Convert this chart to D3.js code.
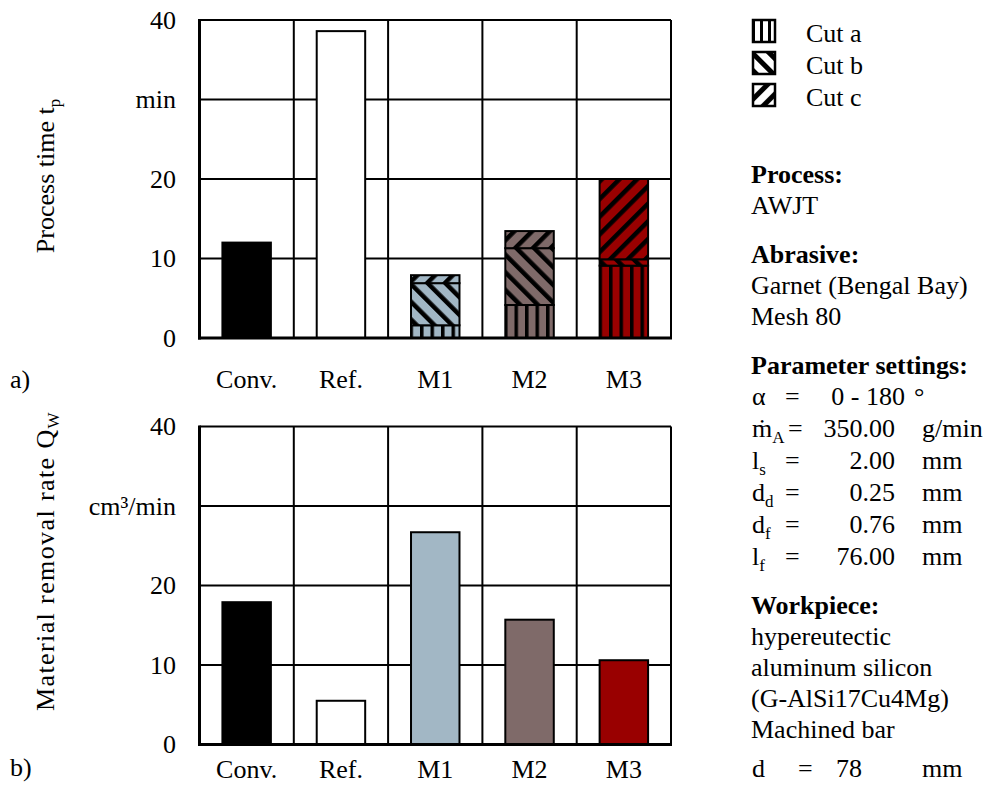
<!DOCTYPE html>
<html>
<head>
<meta charset="utf-8">
<script src="https://cdn.jsdelivr.net/npm/d3@7"></script>
<style>
  body { margin: 0; background: #fff; }
  svg { display: block; font-family: "Liberation Serif", "Times New Roman", serif; }
  text { fill: #000; }
</style>
</head>
<body>
<div id="chart"></div>
<script>
const categories = ["Conv.", "Ref.", "M1", "M2", "M3"];
const cutKeys = ["a", "b", "c"];
const cutNames = ["Cut a", "Cut b", "Cut c"];
// process time t_p (min): Conv. and Ref. are single bars, M1-M3 stacked by cut
const timeSingle = [12.0, 38.6, 0, 0, 0];
const timeCutA = [0, 0, 1.6, 4.15, 9.1];
const timeCutB = [0, 0, 5.3, 7.15, 0.8];
const timeCutC = [0, 0, 1.0, 2.15, 10.1];
// material removal rate Q_W (cm³/min)
const removalRate = [17.9, 5.5, 26.7, 15.7, 10.6];
const yTicks = [0, 10, 20, 30, 40];
const timeTickLabels = ["0", "10", "20", "min", "40"];
const rateTickLabels = ["0", "10", "20", "cm³/min", "40"];

const barFill = { "Conv.": "#000000", "Ref.": "#ffffff", "M1": "#a2b7c5", "M2": "#7f6a69", "M3": "#990000" };
const serif = "'Liberation Serif', 'Times New Roman', serif";
const fontSize = 26;

const width = 985, height = 785;
const svg = d3.select("#chart").append("svg")
  .attr("width", width)
  .attr("height", height);

const defs = svg.append("defs");

function stripePattern(id, bg, kind, period, black) {
  const p = defs.append("pattern")
    .attr("id", id)
    .attr("patternUnits", "userSpaceOnUse")
    .attr("width", period)
    .attr("height", period);
  if (kind !== "a") p.attr("patternTransform", `rotate(${kind === "c" ? 45 : -45})`);
  p.append("rect").attr("width", period).attr("height", period).attr("fill", bg);
  p.append("rect").attr("width", black).attr("height", period).attr("fill", "#000");
}

categories.slice(2).forEach((c, i) => {
  cutKeys.forEach(k => {
    if (k === "a") stripePattern(`pat-${i}-${k}`, barFill[c], k, 10.5, 3.5);
    else stripePattern(`pat-${i}-${k}`, barFill[c], k, 12.5, 4.5);
  });
});
cutKeys.forEach(k => {
  if (k === "a") stripePattern(`leg-${k}`, "#fff", k, 8, 3);
  else stripePattern(`leg-${k}`, "#fff", k, 12, 5);
});

const x = d3.scaleBand()
  .domain(categories)
  .range([199.5, 671])
  .paddingInner(0.486)
  .paddingOuter(0.243);

function cellRight(c) {
  return x(c) + x.bandwidth() + x.step() * x.paddingInner() / 2;
}

function drawPanel(top, bottom, tickLabels, labelPad) {
  const y = d3.scaleLinear().domain([0, 40]).range([bottom, top]);
  const g = svg.append("g");

  // horizontal grid
  g.append("g")
    .selectAll("line")
    .data(yTicks.filter(d => d > 0))
    .join("line")
    .attr("x1", x.range()[0])
    .attr("x2", x.range()[1])
    .attr("y1", d => y(d))
    .attr("y2", d => y(d))
    .attr("stroke", "#000")
    .attr("stroke-width", 2);

  // vertical separators between categories
  g.append("g")
    .selectAll("line")
    .data(categories)
    .join("line")
    .attr("x1", d => cellRight(d))
    .attr("x2", d => cellRight(d))
    .attr("y1", top)
    .attr("y2", bottom)
    .attr("stroke", "#000")
    .attr("stroke-width", 2);

  // tick labels
  const yAxis = g.append("g")
    .attr("transform", `translate(${x.range()[0]},0)`)
    .call(d3.axisLeft(y).tickValues(yTicks).tickSize(0).tickPadding(23.5)
      .tickFormat((d, i) => tickLabels[i]))
    .attr("font-family", serif)
    .attr("font-size", fontSize);
  yAxis.select(".domain").remove();
  yAxis.selectAll("text").attr("fill", "#000");

  const xAxis = g.append("g")
    .attr("transform", `translate(0,${bottom})`)
    .call(d3.axisBottom(x).tickSize(0).tickPadding(labelPad))
    .attr("font-family", serif)
    .attr("font-size", fontSize);
  xAxis.select(".domain").remove();
  xAxis.selectAll("text").attr("fill", "#000");

  return { g, y };
}

function drawAxes(g, top, bottom) {
  g.append("line")
    .attr("x1", x.range()[0]).attr("x2", x.range()[0])
    .attr("y1", top - 1).attr("y2", bottom + 1.5)
    .attr("stroke", "#000").attr("stroke-width", 3);
  g.append("line")
    .attr("x1", x.range()[0] - 1.5).attr("x2", x.range()[1] + 1)
    .attr("y1", bottom).attr("y2", bottom)
    .attr("stroke", "#000").attr("stroke-width", 3);
}

// ---- panel a) process time
const top1 = 20, bot1 = 338;
const p1 = drawPanel(top1, bot1, timeTickLabels, 32);

const singles = categories.map((c, i) => ({ cat: c, v: timeSingle[i] })).filter(d => d.v > 0);
p1.g.append("g")
  .selectAll("rect")
  .data(singles)
  .join("rect")
  .attr("x", d => x(d.cat))
  .attr("width", x.bandwidth())
  .attr("y", d => p1.y(d.v))
  .attr("height", d => p1.y(0) - p1.y(d.v))
  .attr("fill", d => barFill[d.cat])
  .attr("stroke", "#000")
  .attr("stroke-width", 2);

const stackRows = categories.map((c, i) => ({ cat: c, a: timeCutA[i], b: timeCutB[i], c: timeCutC[i] }));
const series = d3.stack().keys(cutKeys)(stackRows);
series.forEach(s => {
  p1.g.append("g")
    .selectAll("rect")
    .data(s.filter(d => d[1] > d[0]))
    .join("rect")
    .attr("x", d => x(d.data.cat))
    .attr("width", x.bandwidth())
    .attr("y", d => p1.y(d[1]))
    .attr("height", d => p1.y(d[0]) - p1.y(d[1]))
    .attr("fill", d => `url(#pat-${categories.indexOf(d.data.cat) - 2}-${s.key})`)
    .attr("stroke", "#000")
    .attr("stroke-width", 2);
});
drawAxes(p1.g, top1, bot1);

// ---- panel b) material removal rate
const top2 = 426.5, bot2 = 744.5;
const p2 = drawPanel(top2, bot2, rateTickLabels, 15.5);
p2.g.append("g")
  .selectAll("rect")
  .data(categories.map((c, i) => ({ cat: c, v: removalRate[i] })))
  .join("rect")
  .attr("x", d => x(d.cat))
  .attr("width", x.bandwidth())
  .attr("y", d => p2.y(d.v))
  .attr("height", d => p2.y(0) - p2.y(d.v))
  .attr("fill", d => barFill[d.cat])
  .attr("stroke", "#000")
  .attr("stroke-width", 2);
drawAxes(p2.g, top2, bot2);

// axis titles
const t1 = svg.append("text")
  .attr("transform", `translate(54,176) rotate(-90)`)
  .attr("text-anchor", "middle")
  .attr("font-size", fontSize);
t1.append("tspan").text("Process time t");
t1.append("tspan").attr("font-size", 17).attr("dy", 6).text("p");

const t2 = svg.append("text")
  .attr("transform", `translate(54,561) rotate(-90)`)
  .attr("text-anchor", "middle")
  .attr("font-size", fontSize)
  .attr("letter-spacing", 1.4);
t2.append("tspan").text("Material removal rate Q");
t2.append("tspan").attr("font-size", 17).attr("dy", 5).text("W");

svg.append("text").attr("x", 10).attr("y", 388).attr("font-size", fontSize).text("a)");
svg.append("text").attr("x", 10).attr("y", 776).attr("font-size", fontSize).text("b)");

// legend
const legend = svg.append("g");
cutKeys.forEach((k, i) => {
  const base = 42 + i * 32;
  legend.append("rect")
    .attr("x", 753).attr("y", base - 22)
    .attr("width", 22).attr("height", 22)
    .attr("fill", `url(#leg-${k})`)
    .attr("stroke", "#000").attr("stroke-width", 2.5);
  legend.append("text")
    .attr("x", 806).attr("y", base)
    .attr("font-size", fontSize)
    .text(cutNames[i]);
});

// process description
const info = svg.append("g").attr("font-size", fontSize);
function line(txt, yy, bold) {
  info.append("text").attr("x", 751).attr("y", yy)
    .attr("font-weight", bold ? "bold" : null).text(txt);
}
line("Process:", 183, true);
line("AWJT", 214);
line("Abrasive:", 263, true);
line("Garnet (Bengal Bay)", 294);
line("Mesh 80", 325);
line("Parameter settings:", 374, true);

const params = [
  { sym: "α", sub: "", val: "0 - 180", unit: "°" },
  { sym: "ṁ", sub: "A", val: "350.00", unit: "g/min" },
  { sym: "l", sub: "s", val: "2.00", unit: "mm" },
  { sym: "d", sub: "d", val: "0.25", unit: "mm" },
  { sym: "d", sub: "f", val: "0.76", unit: "mm" },
  { sym: "l", sub: "f", val: "76.00", unit: "mm" }
];
params.forEach((p, i) => {
  const yy = 405 + i * 32;
  const s = info.append("text").attr("x", 752).attr("y", yy);
  s.append("tspan").text(p.sym);
  if (p.sub) s.append("tspan").attr("font-size", 17).attr("dy", 6).text(p.sub);
  info.append("text").attr("x", p.sub === "A" ? 788 : 785).attr("y", yy).text("=");
  info.append("text").attr("x", i === 0 ? 905 : 895).attr("y", yy)
    .attr("text-anchor", "end").text(p.val);
  info.append("text").attr("x", i === 0 ? 914 : 922).attr("y", yy).text(p.unit);
});

line("Workpiece:", 614, true);
line("hypereutectic", 645);
line("aluminum silicon", 676);
line("(G-AlSi17Cu4Mg)", 707);
line("Machined bar", 738);
info.append("text").attr("x", 752).attr("y", 777).text("d");
info.append("text").attr("x", 798).attr("y", 777).text("=");
info.append("text").attr("x", 836).attr("y", 777).text("78");
info.append("text").attr("x", 922).attr("y", 777).text("mm");
</script>
</body>
</html>
